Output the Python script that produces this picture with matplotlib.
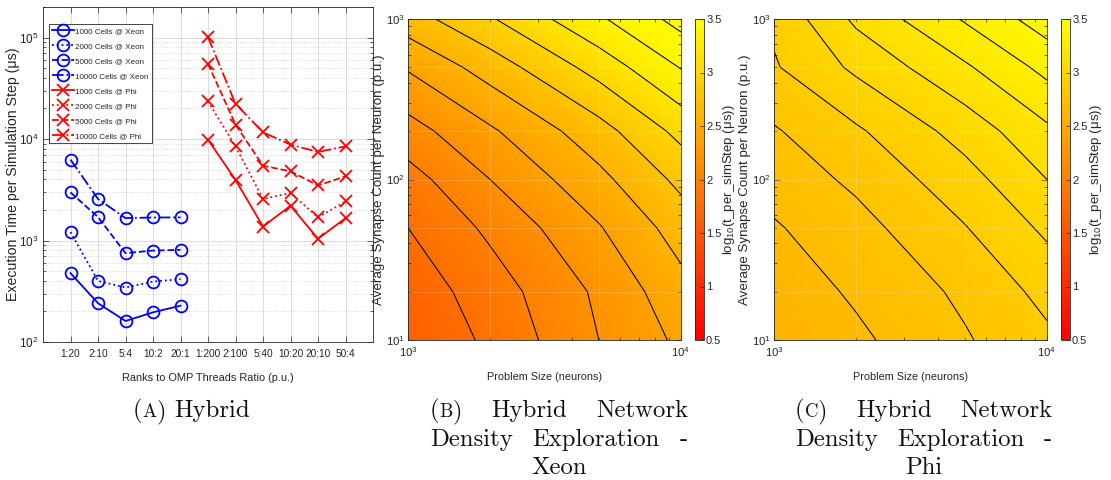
import numpy as np
import matplotlib
matplotlib.use('Agg')
import matplotlib.pyplot as plt
from matplotlib import font_manager as fm
from matplotlib.ticker import FuncFormatter, LogLocator, NullFormatter

# ---------------- data ----------------
ratios = ['1:20', '2:10', '5:4', '10:2', '20:1',
          '1:200', '2:100', '5:40', '10:20', '20:10', '50:4']
cells = [1000, 2000, 5000, 10000]

xeon_1000 = [477, 241, 161, 196, 228]
xeon_2000 = [1211, 400, 344, 394, 416]
xeon_5000 = [2980, 1702, 751, 796, 809]
xeon_10000 = [6270, 2566, 1663, 1686, 1690]

phi_1000 = [9860, 3950, 1374, 2200, 1040, 1663]
phi_2000 = [23500, 8470, 2566, 2940, 1687, 2427]
phi_5000 = [55000, 13870, 5460, 4800, 3490, 4290]
phi_10000 = [100900, 22200, 11650, 8810, 7460, 8470]

neurons = [1000, 2000, 5000, 10000]
synapses = [10, 20, 50, 100, 200, 500, 1000]
# log10(time per sim step) ; rows = synapses, cols = neurons
xeon_log_t = [
    [1.62, 1.84, 2.20, 2.44],
    [1.68, 1.90, 2.235, 2.53],
    [1.80, 2.04, 2.385, 2.69],
    [1.92, 2.20, 2.545, 2.85],
    [2.12, 2.37, 2.72, 3.06],
    [2.42, 2.69, 3.08, 3.41],
    [2.71, 2.98, 3.37, 3.67],
]
phi_log_t = [
    [2.60, 2.68, 2.79, 2.88],
    [2.64, 2.715, 2.82, 2.93],
    [2.69, 2.765, 2.895, 3.02],
    [2.74, 2.82, 2.96, 3.10],
    [2.79, 2.885, 3.04, 3.18],
    [2.89, 3.02, 3.185, 3.33],
    [2.92, 3.12, 3.31, 3.45],
]
xeon_levels = [1.8, 2.0, 2.2, 2.4, 2.6, 2.8, 3.0, 3.2, 3.4, 3.6]
phi_levels = [2.7, 2.8, 2.9, 3.0, 3.1, 3.2, 3.3, 3.4]
cbar_ticks = [0.5, 1, 1.5, 2, 2.5, 3, 3.5]

# ---------------- fonts ----------------
avail = {f.name for f in fm.fontManager.ttflist}
SANS = 'Liberation Sans Narrow' if 'Liberation Sans Narrow' in avail else 'Liberation Sans'
plt.rcParams['font.family'] = [SANS, 'DejaVu Sans']
plt.rcParams['mathtext.default'] = 'regular'
plt.rcParams['axes.unicode_minus'] = False
WIDE = ['Liberation Sans', 'DejaVu Sans']
CAP = 'cmr10'
DARK = '#262626'

W, H = 1111, 480
fig = plt.figure(figsize=(W / 100, H / 100), dpi=100)


def rect(l, t, r, b):
    return [l / W, 1 - b / H, (r - l) / W, (b - t) / H]


def style_axes(ax, lsize=8):
    for s in ax.spines.values():
        s.set_linewidth(0.6)
        s.set_color(DARK)
    ax.tick_params(which='both', direction='in', top=True, right=True,
                   color=DARK, labelcolor=DARK, labelsize=lsize, width=0.5)
    ax.tick_params(which='major', length=4)
    ax.tick_params(which='minor', length=2)


# ---------------- panel A ----------------
axA = fig.add_axes(rect(43, 7, 373, 342))
xpos = np.arange(1, len(ratios) + 1)
xeon_x = xpos[:5]
phi_x = xpos[5:]
styles = ['-', ':', '--', '-.']
for series, ls, n in zip([xeon_1000, xeon_2000, xeon_5000, xeon_10000], styles, cells):
    axA.plot(xeon_x, series, color='#0000ff', ls=ls, lw=1.3, marker='o', ms=8.5,
             mfc='none', mew=1.3, label=f'{n} Cells @ Xeon')
for series, ls, n in zip([phi_1000, phi_2000, phi_5000, phi_10000], styles, cells):
    axA.plot(phi_x, series, color='#ff0000', ls=ls, lw=1.3, marker='x', ms=8,
             mew=1.3, label=f'{n} Cells @ Phi')
axA.set_yscale('log')
axA.set_ylim(100, 2e5)
axA.set_xlim(0, 12)
axA.set_xticks(xpos)
axA.set_xticklabels(ratios)
axA.yaxis.set_minor_locator(LogLocator(base=10, subs=np.arange(2, 10)))
axA.yaxis.set_minor_formatter(NullFormatter())
axA.grid(True, which='major', color='#dcdcdc', lw=0.7)
axA.yaxis.grid(True, which='minor', color='#d4d4d4', lw=0.6, ls=':')
axA.set_axisbelow(True)
style_axes(axA, 8.5)
axA.tick_params(axis='x', labelsize=7.3, pad=5)
axA.set_xlabel('Ranks to OMP Threads Ratio (p.u.)', fontsize=7.9, color=DARK)
axA.xaxis.set_label_coords(0.5, -(378 - 342) / 335)
axA.xaxis.label.set_va('center')
axA.set_ylabel('Execution Time per Simulation Step (μs)', fontsize=10.2, color=DARK,
               family=WIDE)
axA.yaxis.set_label_coords((13 - 43) / 330, 0.5)
axA.yaxis.label.set_va('center')
leg = axA.legend(loc='upper left', bbox_to_anchor=((49 - 43) / 330, (342 - 24) / 335),
                 fontsize=5.8, frameon=True, fancybox=False, framealpha=1,
                 edgecolor=DARK, borderpad=0.4, labelspacing=0.92, handlelength=2.7,
                 handletextpad=0.15, borderaxespad=0, numpoints=1)
leg.get_frame().set_linewidth(0.6)
for t in leg.get_texts():
    t.set_color(DARK)


# ---------------- panels B, C ----------------
def density_panel(ax_rect, cb_rect, Z, levels, ylab_x, cblab_x):
    ax = fig.add_axes(rect(*ax_rect))
    cax = fig.add_axes(rect(*cb_rect))
    ax.set_xscale('log')
    ax.set_yscale('log')
    ax.set_xlim(neurons[0], neurons[-1])
    ax.set_ylim(synapses[0], synapses[-1])
    U, V = np.meshgrid(np.log10(neurons), np.log10(synapses))
    T = ax.transLimits + ax.transAxes
    Zarr = np.array(Z)
    pm = ax.pcolormesh(U, V, Zarr, shading='gouraud', cmap='autumn',
                       vmin=0.5, vmax=3.5, transform=T, rasterized=True)
    ax.contour(U, V, Zarr, levels=levels, colors='k', linewidths=0.75, transform=T)
    for xv in neurons[1:-1]:
        ax.axvline(xv, color='white', lw=0.5, alpha=0.25)
    for yv in synapses[1:-1]:
        ax.axhline(yv, color='white', lw=0.5, alpha=0.25)
    ax.set_xlim(neurons[0], neurons[-1])
    ax.set_ylim(synapses[0], synapses[-1])
    ax.xaxis.set_minor_locator(LogLocator(base=10, subs=np.arange(2, 10)))
    ax.yaxis.set_minor_locator(LogLocator(base=10, subs=np.arange(2, 10)))
    ax.xaxis.set_minor_formatter(NullFormatter())
    ax.yaxis.set_minor_formatter(NullFormatter())
    style_axes(ax, 8.2)
    ax.tick_params(axis='y', pad=2.5)
    ax.set_xlabel('Problem Size (neurons)', fontsize=7.8, color=DARK)
    ax.xaxis.set_label_coords(0.5, -(377 - 340) / 321)
    ax.xaxis.label.set_va('center')
    ax.set_ylabel('Average Synapse Count per Neuron (p.u.)', fontsize=9.6, color=DARK,
                  family=WIDE)
    ax.yaxis.set_label_coords((ylab_x - ax_rect[0]) / (ax_rect[2] - ax_rect[0]), 0.5)
    ax.yaxis.label.set_va('center')

    cb = fig.colorbar(pm, cax=cax, ticks=cbar_ticks)
    cb.ax.yaxis.set_major_formatter(FuncFormatter(lambda v, p: f'{v:g}'))
    cb.outline.set_linewidth(0.6)
    cb.outline.set_edgecolor(DARK)
    cb.ax.tick_params(direction='in', length=3, width=0.5, color=DARK,
                      labelcolor=DARK, labelsize=8, pad=1.5)
    cb.ax.minorticks_off()
    cb.set_label('log$_{10}$(t_per_simStep (μs))', fontsize=9.5, color=DARK, family=WIDE)
    cbw = cb_rect[2] - cb_rect[0]
    cb.ax.yaxis.set_label_coords((cblab_x - cb_rect[0]) / cbw, 0.5)
    cb.ax.yaxis.label.set_va('center')
    return ax


axB = density_panel((408, 19, 681, 340), (695, 19, 704, 340), xeon_log_t, xeon_levels,
                    379, 729)
axC = density_panel((774, 19, 1047, 340), (1061, 19, 1070, 340), phi_log_t, phi_levels,
                    745, 1096)

# ---------------- captions ----------------
FS = 17.8
FS_SC = 13.5
renderer = fig.canvas.get_renderer()


def make_token(parts):
    objs = []
    for s, fs in parts:
        t = fig.text(0, 0, s, fontsize=fs, family=CAP, va='baseline', ha='left',
                     color='#111111')
        objs.append(t)
    widths = [o.get_window_extent(renderer).width for o in objs]
    return objs, widths


def place_token(objs, widths, x, y):
    for o, w in zip(objs, widths):
        o.set_position((x / W, 1 - y / H))
        x += w


def caption_line(tokens, y, x0, x1=None, mode='left'):
    toks = [make_token(p) for p in tokens]
    tw = [sum(w) for _, w in toks]
    space = 0.333 * FS * 100 / 72
    if mode == 'justify':
        gap = (x1 - x0 - sum(tw)) / (len(toks) - 1)
        x = x0
    elif mode == 'center':
        total = sum(tw) + space * (len(toks) - 1)
        x = x0 - total / 2
        gap = space
    else:
        x = x0
        gap = space
    for (objs, widths), w in zip(toks, tw):
        place_token(objs, widths, x, y)
        x += w + gap


def sc(letter):
    return [('(', FS), (letter, FS_SC), (')', FS)]


caption_line([sc('A'), [('Hybrid', FS)]], 417, 133)
caption_line([sc('B'), [('Hybrid', FS)], [('Network', FS)]], 417, 430, 688, 'justify')
caption_line([[('Density', FS)], [('Exploration', FS)], [('-', FS)]], 446, 430, 688, 'justify')
caption_line([[('Xeon', FS)]], 474, 559, mode='center')
caption_line([sc('C'), [('Hybrid', FS)], [('Network', FS)]], 417, 795, 1052, 'justify')
caption_line([[('Density', FS)], [('Exploration', FS)], [('-', FS)]], 446, 795, 1052, 'justify')
caption_line([[('Phi', FS)]], 474, 924, mode='center')

fig.savefig('out.png', dpi=100)
